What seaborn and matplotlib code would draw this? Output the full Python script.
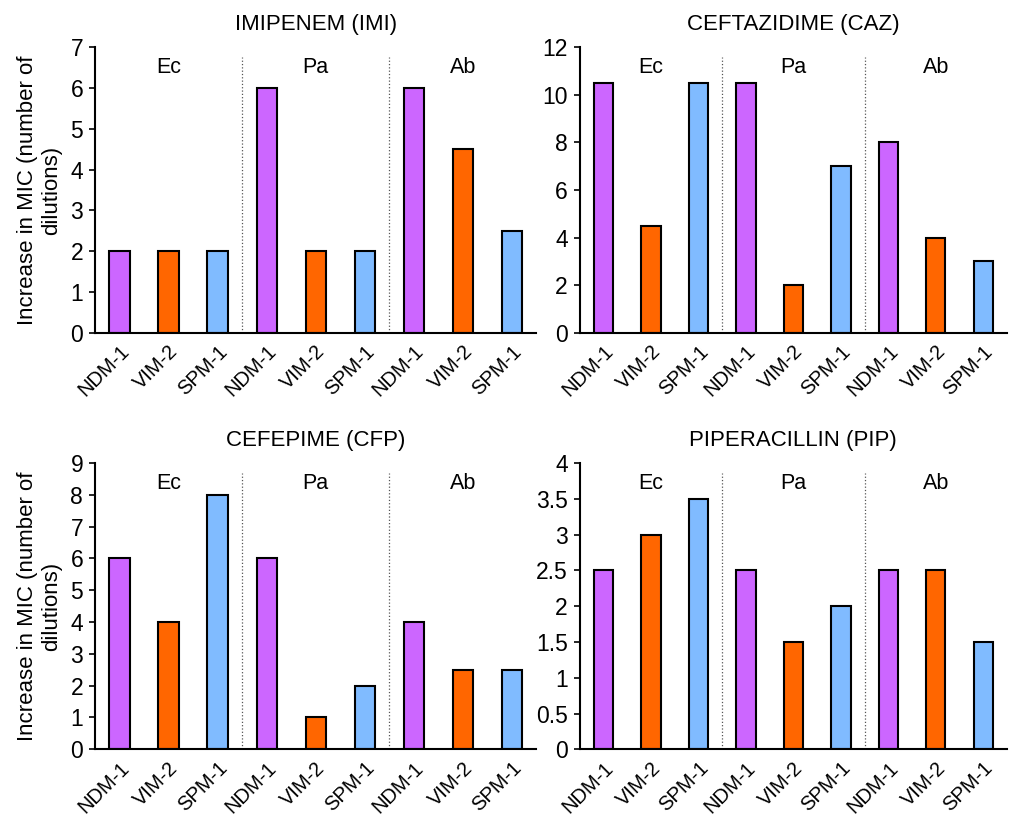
import pandas as pd
import numpy as np
import matplotlib.pyplot as plt
import seaborn as sns

# groups / enzymes
species = ["Ec", "Pa", "Ab"]
enzymes = ["NDM-1", "VIM-2", "SPM-1"]

# increase in MIC (number of dilutions), order: Ec(NDM,VIM,SPM), Pa(...), Ab(...)
imi = [2, 2, 2, 6, 2, 2, 6, 4.5, 2.5]
caz = [10.5, 4.5, 10.5, 10.5, 2, 7, 8, 4, 3]
cfp = [6, 4, 8, 6, 1, 2, 4, 2.5, 2.5]
pip = [2.5, 3, 3.5, 2.5, 1.5, 2, 2.5, 2.5, 1.5]

titles = ["IMIPENEM (IMI)", "CEFTAZIDIME (CAZ)", "CEFEPIME (CFP)", "PIPERACILLIN (PIP)"]
ymax = [7, 12, 9, 4]
ystep = [1, 2, 1, 0.5]

palette = {"NDM-1": "#CC66FF", "VIM-2": "#FF6600", "SPM-1": "#80BBFF"}

sns.set_style("white")
plt.rcParams["font.family"] = ["Liberation Sans", "DejaVu Sans"]
plt.rcParams["text.color"] = "black"
plt.rcParams["xtick.color"] = "black"
plt.rcParams["ytick.color"] = "black"
plt.rcParams["axes.labelcolor"] = "black"

fig = plt.figure(figsize=(10.1, 8.18), dpi=100)
boxes = [
    [0.094, 0.593, 0.437, 0.3495],
    [0.574, 0.593, 0.423, 0.3495],
    [0.094, 0.084, 0.437, 0.350],
    [0.574, 0.084, 0.423, 0.350],
]

for i, vals in enumerate([imi, caz, cfp, pip]):
    ax = fig.add_axes(boxes[i])
    df = pd.DataFrame({
        "key": [f"{s} {e}" for s in species for e in enzymes],
        "enzyme": enzymes * 3,
        "value": vals,
    })
    sns.barplot(data=df, x="key", y="value", hue="enzyme", palette=palette,
                dodge=False, width=0.41, saturation=1, edgecolor="black",
                linewidth=1.5, legend=False, ax=ax)
    ax.set_xlim(-0.5, 8.5)
    ax.set_ylim(0, ymax[i])
    ax.set_yticks(np.arange(0, ymax[i] + ystep[i] / 2, ystep[i]))
    ax.yaxis.set_major_formatter(plt.FuncFormatter(lambda v, p: f"{v:g}"))
    ax.set_xticks(range(9))
    ax.set_xticklabels(enzymes * 3, rotation=45, ha="right", rotation_mode="anchor", fontsize=14.5)
    ax.tick_params(axis="y", labelsize=16.5, left=True, length=4.5, width=1.2, direction="out", pad=4)
    ax.tick_params(axis="x", bottom=False, pad=3)
    sns.despine(ax=ax)
    for sp in ["left", "bottom"]:
        ax.spines[sp].set_linewidth(1.5)
        ax.spines[sp].set_color("black")
    for xb in [2.5, 5.5]:
        ax.axvline(xb, ymin=0, ymax=0.965, ls=":", color="#555555", lw=0.9)
    for j, s in enumerate(species):
        ax.text(3 * j + 1, 0.93, s, transform=ax.get_xaxis_transform(),
                ha="center", va="center", fontsize=15.5)
    ax.set_title(titles[i], fontsize=16, pad=12)
    ax.set_xlabel("")
    if i % 2 == 0:
        ax.set_ylabel("Increase in MIC (number of\ndilutions)", fontsize=16, labelpad=6)
    else:
        ax.set_ylabel("")

plt.savefig("out.png", dpi=100)
